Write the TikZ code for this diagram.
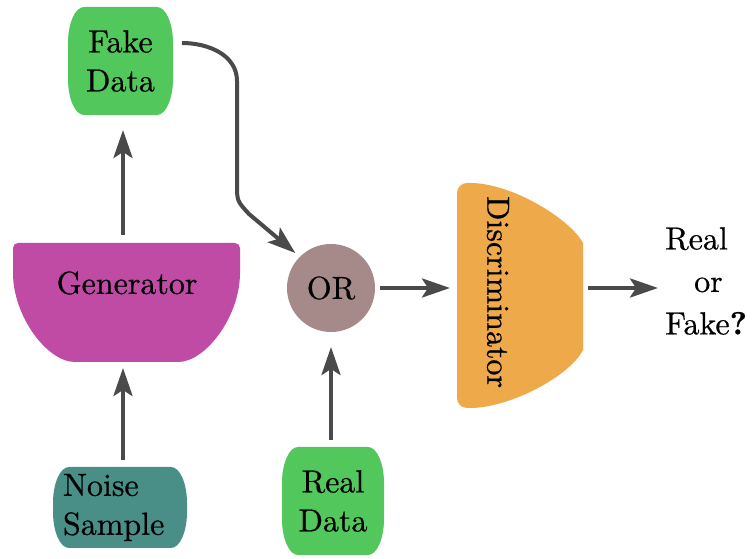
\documentclass[tikz,border=0pt]{standalone}
\usepackage{fontspec}
\setmainfont{lmroman10-regular}[Extension=.otf, FakeBold=0.6,
  BoldFont=lmroman10-bold, BoldFeatures={FakeBold=0.6}]
\usetikzlibrary{arrows.meta,calc,backgrounds}

\definecolor{datagreen}{HTML}{52C75B}
\definecolor{genpink}{HTML}{C04BA5}
\definecolor{noiseteal}{HTML}{4A8E88}
\definecolor{orgray}{HTML}{A68A8A}
\definecolor{discorange}{HTML}{EEA94A}
\definecolor{arrowgray}{HTML}{4A4A4A}

% barrel-shaped box with elliptic corners, filled behind node #1
\newcommand\barrelfill[2]{%
  \fill[#2] let \p1=(#1.south west), \p2=(#1.north east) in
    (\x1+16pt,\y2) -- (\x2-16pt,\y2)
    arc[start angle=90,end angle=0,x radius=16pt,y radius=36pt]
    -- (\x2,\y1+36pt)
    arc[start angle=0,end angle=-90,x radius=16pt,y radius=36pt]
    -- (\x1+16pt,\y1)
    arc[start angle=270,end angle=180,x radius=16pt,y radius=36pt]
    -- (\x1,\y2-36pt)
    arc[start angle=180,end angle=90,x radius=16pt,y radius=36pt]
    -- cycle;}

\begin{document}
\begin{tikzpicture}[x=1pt,y=1pt,
  font=\fontsize{32}{39}\selectfont,
  txt/.style={inner sep=0pt, outer sep=0pt, align=center},
  region/.style={inner sep=0pt, outer sep=0pt},
  arr/.style={draw=arrowgray, line width=4pt,
    -{Stealth[length=28pt,width=19pt,inset=6pt]}}]

\useasboundingbox (0,0) rectangle (752,559);

% nodes
\node[txt, minimum width=105, minimum height=108] (fake) at (120.5,498) {Fake\\Data};
\node[region, minimum width=227, minimum height=119] (gen) at (126.5,256.5) {};
\node[txt] (gentext) at (127,276) {Generator};
\node[txt, text width=114pt, align=left, inner xsep=10pt, minimum height=81]
  (noise) at (120,51.5) {Noise\\Sample};
\node[txt, circle, minimum size=88] (or) at (331,271) {OR};
\node[txt, minimum width=102, minimum height=108] (real) at (333,58) {Real\\Data};
\node[region, minimum width=126, minimum height=225] (disc) at (520,263.5) {};
\node[txt, rotate=-90] (disctext) at (498,267) {Discriminator};
\node[inner sep=0pt, anchor=west, align=left,
  font=\fontsize{32}{42.5}\selectfont] (out) at (665,278)
  {Real\\\hspace*{29pt}or\\Fake\textbf{?}};

% shapes behind the labels
\begin{scope}[on background layer]
  \fill[white] (0,0) rectangle (752,559);
  \barrelfill{fake}{datagreen}
  \barrelfill{real}{datagreen}
  \barrelfill{noise}{noiseteal}
  \fill[orgray] (or) circle[radius=44];
  % generator bowl
  \fill[genpink] (13,311) to[out=90,in=180] (18,316) -- (235,316)
    to[out=0,in=90] (240,311) -- (240,286)
    .. controls (240,243) and (206,197) .. (178,197)
    -- (75,197) .. controls (47,197) and (13,243) .. (13,286) -- cycle;
  % discriminator half-disc
  \fill[discorange] (457,366) to[out=90,in=180] (467,376) -- (470,376)
    .. controls (512,376) and (570,340) .. (583,316)
    -- (583,209)
    .. controls (570,183) and (510,151) .. (470,151)
    -- (467,151) to[out=180,in=-90] (457,161) -- cycle;
\end{scope}

% connectors
\coordinate (n0) at ($(noise.north)+(3,0)$);
\draw[arr, shorten <=7pt, shorten >=6pt] (n0) -- (n0 |- gen.south);
\draw[arr, shorten <=8pt, shorten >=15pt] (gen.north -| n0) -- (n0 |- fake.south);
\draw[arr, shorten <=7pt, shorten >=15pt] (real.north -| or.south) -- (or.south);
\draw[arr, shorten <=5pt, shorten >=7pt] (or.east) -- (or.east -| disc.west);
\draw[arr, shorten <=5pt, shorten >=7pt] (or.east -| disc.east) -- (or.east -| out.west);
\draw[arr, shorten >=6pt] ($(fake.east)+(9,18)$) coordinate (f0)
  to[out=0,in=90] (237,478) -- (237,375)
  .. controls (237,358) .. (249,345) -- (or.north west);
\end{tikzpicture}
\end{document}
